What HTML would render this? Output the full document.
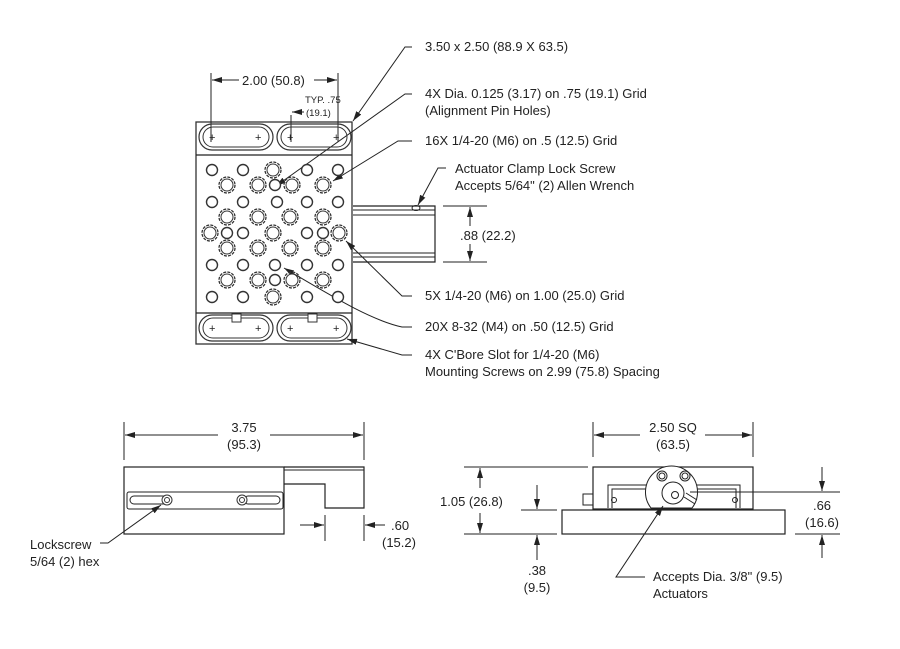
<!DOCTYPE html>
<html><head><meta charset="utf-8"><style>
html,body{margin:0;padding:0;background:#fff;}
svg{display:block;}
text{font-family:"Liberation Sans Narrow","Liberation Sans",sans-serif;font-size:13px;fill:#222;}
.s{font-size:9.5px;}
</style></head><body>
<svg width="900" height="649" viewBox="0 0 900 649" xmlns="http://www.w3.org/2000/svg">
<defs>
<marker id="a" viewBox="0 0 10 6" refX="10" refY="3" markerWidth="10" markerHeight="6" orient="auto-start-reverse" markerUnits="userSpaceOnUse"><path d="M0,0 L10,3 L0,6 z" fill="#222"/></marker>
<g id="gh"><circle r="8" fill="none" stroke="#333" stroke-width="1.3" stroke-dasharray="3 1.2"/><circle r="6" fill="#fff" stroke="#333" stroke-width="1"/></g>
<g id="sh"><circle r="5.5" fill="#fff" stroke="#333" stroke-width="1.4"/></g>
<g id="slot"><rect x="0" y="0" width="74" height="26" rx="13" fill="none" stroke="#333" stroke-width="1.2"/><rect x="4" y="3" width="66" height="20" rx="10" fill="none" stroke="#333" stroke-width="1"/><text x="10" y="17" style="font-size:11px">+</text><text x="56" y="17" style="font-size:11px">+</text></g>
</defs>
<g stroke="#222" stroke-width="1" fill="none">
<!-- top view plate -->
<rect x="196" y="122" width="156" height="222" stroke="#333" stroke-width="1.3"/>
<line x1="196" y1="155" x2="352" y2="155" stroke-width="1.3"/>
<line x1="196" y1="313" x2="352" y2="313" stroke-width="1.3"/>
<!-- rail -->
<path d="M353 206 H435 V262 H353" stroke-width="1.2"/>
<line x1="353" y1="210" x2="435" y2="210"/><line x1="353" y1="215" x2="435" y2="215"/>
<line x1="353" y1="253" x2="435" y2="253"/><line x1="353" y1="257" x2="435" y2="257"/>
<ellipse cx="416" cy="208" rx="4" ry="2.5"/>
<!-- dims top -->
<line x1="211" y1="73" x2="211" y2="142"/><line x1="338" y1="73" x2="338" y2="142"/>
<line x1="239" y1="80" x2="212" y2="80" marker-end="url(#a)"/>
<line x1="314" y1="80" x2="337" y2="80" marker-end="url(#a)"/>
<line x1="291" y1="115" x2="291" y2="142"/>
<line x1="304" y1="112" x2="292" y2="112" marker-end="url(#a)"/>
<line x1="443" y1="206" x2="487" y2="206"/><line x1="443" y1="262" x2="487" y2="262"/>
<line x1="470" y1="226" x2="470" y2="207" marker-end="url(#a)"/>
<line x1="470" y1="244" x2="470" y2="261" marker-end="url(#a)"/>
<!-- leaders -->
<polyline points="412,47 405,47 353,121" marker-end="url(#a)"/>
<polyline points="412,94 405,94 276,186" marker-end="url(#a)"/>
<polyline points="412,141 398,141 333,181" marker-end="url(#a)"/>
<polyline points="446,168 438,168 418,205" marker-end="url(#a)"/>
<polyline points="412,296 402,296 346,241" marker-end="url(#a)"/>
<path d="M412 327 H402 C370 320 330 295 284 268" marker-end="url(#a)"/>
<polyline points="412,355 402,355 347,339" marker-end="url(#a)"/>
<!-- side view -->
<rect x="124" y="467" width="160" height="67" stroke-width="1.2"/>
<path d="M284 467 H364 V508 H325 V484 H284" stroke-width="1.2"/>
<line x1="284" y1="470" x2="364" y2="470"/>
<rect x="127" y="492" width="156" height="17" rx="2"/>
<rect x="130" y="496" width="40" height="8" rx="4"/>
<rect x="244" y="496" width="36" height="8" rx="4"/>
<line x1="124" y1="422" x2="124" y2="460"/><line x1="364" y1="422" x2="364" y2="460"/>
<line x1="218" y1="435" x2="125" y2="435" marker-end="url(#a)"/>
<line x1="270" y1="435" x2="363" y2="435" marker-end="url(#a)"/>
<line x1="325" y1="515" x2="325" y2="541"/><line x1="364" y1="515" x2="364" y2="541"/>
<line x1="300" y1="525" x2="324" y2="525" marker-end="url(#a)"/>
<line x1="385" y1="525" x2="365" y2="525" marker-end="url(#a)"/>
<polyline points="100,543 108,543 161,505" marker-end="url(#a)"/>
<!-- end view -->
<rect x="593" y="467" width="160" height="42" stroke-width="1.2"/>
<rect x="562" y="510" width="223" height="24" stroke-width="1.2"/>
<path d="M608 508 V485 H740 V508"/><path d="M612 508 V489 H736 V508"/>
<path d="M651 508 A26 26 0 1 1 692 508 Z" fill="#fff"/>
<circle cx="662" cy="476" r="5"/><circle cx="662" cy="476" r="3"/>
<circle cx="685" cy="476" r="5"/><circle cx="685" cy="476" r="3"/>
<circle cx="673" cy="493" r="11" fill="#fff"/><circle cx="675" cy="495" r="3.5"/>
<path d="M686 493 L697 500 M684 497 L695 504"/>
<rect x="583" y="494" width="10" height="11"/>
<circle cx="614" cy="500" r="2.5"/><circle cx="735" cy="500" r="2.5"/>
<line x1="593" y1="422" x2="593" y2="457"/><line x1="753" y1="422" x2="753" y2="457"/>
<line x1="640" y1="435" x2="594" y2="435" marker-end="url(#a)"/>
<line x1="705" y1="435" x2="752" y2="435" marker-end="url(#a)"/>
<line x1="464" y1="467" x2="588" y2="467"/><line x1="464" y1="534" x2="557" y2="534"/>
<line x1="521" y1="510" x2="557" y2="510"/>
<line x1="480" y1="488" x2="480" y2="468" marker-end="url(#a)"/>
<line x1="480" y1="513" x2="480" y2="533" marker-end="url(#a)"/>
<line x1="537" y1="485" x2="537" y2="509" marker-end="url(#a)"/>
<line x1="537" y1="560" x2="537" y2="535" marker-end="url(#a)"/>
<line x1="690" y1="492" x2="840" y2="492"/><line x1="795" y1="534" x2="840" y2="534"/>
<line x1="822" y1="467" x2="822" y2="491" marker-end="url(#a)"/>
<line x1="822" y1="558" x2="822" y2="535" marker-end="url(#a)"/>
<polyline points="645,577 616,577 663,506" marker-end="url(#a)"/>
</g>
<!-- slots -->
<use href="#slot" x="199" y="124"/><use href="#slot" x="277" y="124"/>
<use href="#slot" x="199" y="315"/><use href="#slot" x="277" y="315"/>
<rect x="232" y="314" width="9" height="8" fill="#fff" stroke="#333"/>
<rect x="308" y="314" width="9" height="8" fill="#fff" stroke="#333"/>
<!-- holes -->
<g>
<use href="#sh" x="212" y="170"/><use href="#sh" x="243" y="170"/><use href="#sh" x="307" y="170"/><use href="#sh" x="338" y="170"/>
<use href="#sh" x="212" y="202"/><use href="#sh" x="243" y="202"/><use href="#sh" x="277" y="202"/><use href="#sh" x="307" y="202"/><use href="#sh" x="338" y="202"/>
<use href="#sh" x="227" y="233"/><use href="#sh" x="243" y="233"/><use href="#sh" x="307" y="233"/><use href="#sh" x="323" y="233"/>
<use href="#sh" x="212" y="265"/><use href="#sh" x="243" y="265"/><use href="#sh" x="275" y="265"/><use href="#sh" x="307" y="265"/><use href="#sh" x="338" y="265"/>
<use href="#sh" x="212" y="297"/><use href="#sh" x="243" y="297"/><use href="#sh" x="307" y="297"/><use href="#sh" x="338" y="297"/>
<use href="#sh" x="275" y="185"/><use href="#sh" x="275" y="280"/>
<use href="#gh" x="227" y="185"/><use href="#gh" x="258" y="185"/><use href="#gh" x="292" y="185"/><use href="#gh" x="323" y="185"/>
<use href="#gh" x="227" y="217"/><use href="#gh" x="258" y="217"/><use href="#gh" x="290" y="217"/><use href="#gh" x="323" y="217"/>
<use href="#gh" x="227" y="248"/><use href="#gh" x="258" y="248"/><use href="#gh" x="290" y="248"/><use href="#gh" x="323" y="248"/>
<use href="#gh" x="227" y="280"/><use href="#gh" x="258" y="280"/><use href="#gh" x="292" y="280"/><use href="#gh" x="323" y="280"/>
<use href="#gh" x="273" y="170"/><use href="#gh" x="210" y="233"/><use href="#gh" x="273" y="233"/><use href="#gh" x="339" y="233"/><use href="#gh" x="273" y="297"/>
</g>
<g fill="#fff" stroke="#333"><circle cx="167" cy="500" r="5"/><circle cx="167" cy="500" r="2.5"/><circle cx="242" cy="500" r="5"/><circle cx="242" cy="500" r="2.5"/></g>
<!-- text -->
<text x="425" y="51">3.50 x 2.50 (88.9 X 63.5)</text>
<text x="242" y="85">2.00 (50.8)</text>
<text x="305" y="103" class="s">TYP. .75</text>
<text x="306" y="116" class="s">(19.1)</text>
<text x="425" y="98">4X  Dia. 0.125 (3.17) on .75 (19.1) Grid</text>
<text x="425" y="115">(Alignment Pin Holes)</text>
<text x="425" y="145">16X  1/4-20 (M6) on .5 (12.5) Grid</text>
<text x="455" y="173">Actuator Clamp Lock Screw</text>
<text x="455" y="190">Accepts 5/64" (2) Allen Wrench</text>
<text x="460" y="240">.88 (22.2)</text>
<text x="425" y="300">5X  1/4-20 (M6) on 1.00 (25.0) Grid</text>
<text x="425" y="331">20X  8-32 (M4) on .50 (12.5) Grid</text>
<text x="425" y="359">4X  C'Bore Slot for 1/4-20 (M6)</text>
<text x="425" y="376">Mounting Screws on 2.99 (75.8) Spacing</text>
<text x="244" y="432" text-anchor="middle">3.75</text>
<text x="244" y="449" text-anchor="middle">(95.3)</text>
<text x="391" y="530">.60</text>
<text x="382" y="547">(15.2)</text>
<text x="30" y="549">Lockscrew</text>
<text x="30" y="566">5/64 (2) hex</text>
<text x="673" y="432" text-anchor="middle">2.50 SQ</text>
<text x="673" y="449" text-anchor="middle">(63.5)</text>
<text x="440" y="506">1.05 (26.8)</text>
<text x="537" y="575" text-anchor="middle">.38</text>
<text x="537" y="592" text-anchor="middle">(9.5)</text>
<text x="822" y="510" text-anchor="middle">.66</text>
<text x="822" y="527" text-anchor="middle">(16.6)</text>
<text x="653" y="581">Accepts Dia. 3/8" (9.5)</text>
<text x="653" y="598">Actuators</text>
</svg>
</body></html>
